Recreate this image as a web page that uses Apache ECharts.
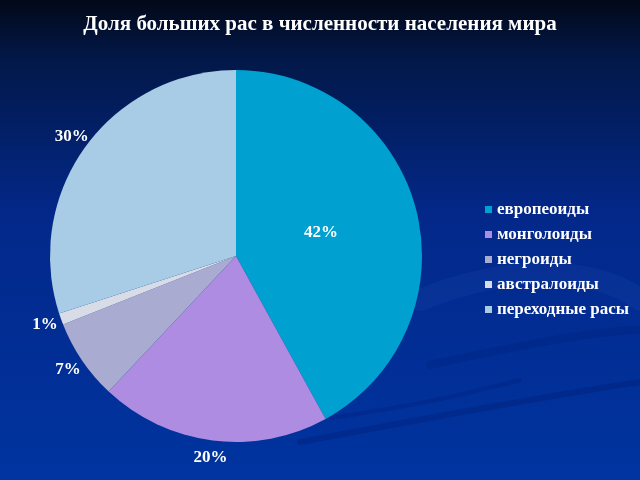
<!DOCTYPE html>
<html>
<head>
<meta charset="utf-8">
<script src="https://cdn.jsdelivr.net/npm/echarts@6/dist/echarts.min.js"></script>
<style>
html,body{margin:0;padding:0;background:#001a66;}
#c{width:640px;height:480px;}
</style>
</head>
<body>
<div id="c"></div>
<script>
const titleText = 'Доля больших рас в численности населения мира';
const categories = ['европеоиды', 'монголоиды', 'негроиды', 'австралоиды', 'переходные расы'];
const values = [42, 20, 7, 1, 30];
const colors = ['#00A0D0', '#AE8CE2', '#A9ACD0', '#D8DCE6', '#A8CCE6'];
const insideIndex = 0;

const font = '"Liberation Serif", "Times New Roman", serif';
const chart = echarts.init(document.getElementById('c'));

const mainData = categories.map((n, i) => ({
  name: n, value: values[i],
  itemStyle: { color: colors[i] },
  label: { show: i === insideIndex }
}));
const ringData = categories.map((n, i) => ({
  name: n, value: values[i],
  label: { show: i !== insideIndex }
}));

function swoosh(x1, y1, cx1, cy1, cx2, cy2, x2, y2, stroke, w) {
  return { type: 'bezierCurve', silent: true, z: -10,
    shape: { x1: x1, y1: y1, cpx1: cx1, cpy1: cy1, cpx2: cx2, cpy2: cy2, x2: x2, y2: y2 },
    style: { fill: 'none', stroke: stroke, lineWidth: w, lineCap: 'round' } };
}

chart.setOption({
  backgroundColor: {
    type: 'linear', x: 0, y: 0, x2: 0, y2: 1,
    colorStops: [
      { offset: 0, color: '#020818' },
      { offset: 0.12, color: '#021848' },
      { offset: 0.45, color: '#03288a' },
      { offset: 1, color: '#0034a0' }
    ]
  },
  graphic: [
    swoosh(300, 442, 420, 420, 520, 400, 640, 382, 'rgba(0,25,110,0.3)', 6),
    swoosh(330, 418, 420, 405, 470, 393, 520, 380, 'rgba(0,25,110,0.25)', 4),
    swoosh(420, 300, 520, 260, 600, 270, 640, 300, 'rgba(60,100,200,0.12)', 22),
    swoosh(430, 365, 520, 345, 600, 330, 640, 330, 'rgba(0,25,110,0.2)', 8)
  ],
  title: {
    text: titleText, left: 'center', top: 9,
    textStyle: { color: '#ffffff', fontFamily: font, fontWeight: 'bold', fontSize: 21 }
  },
  legend: {
    orient: 'vertical', left: 480, top: 196,
    itemWidth: 7, itemHeight: 7, itemGap: 8,
    icon: 'rect',
    data: categories,
    textStyle: { color: '#ffffff', fontFamily: font, fontWeight: 'bold', fontSize: 17 }
  },
  series: [
    {
      type: 'pie', center: [236, 256], radius: [0, 186],
      startAngle: 90, clockwise: true, animation: false,
      emphasis: { disabled: true },
      label: {
        position: 'inner', formatter: '{d}%', color: '#ffffff',
        fontFamily: font, fontWeight: 'bold', fontSize: 17, offset: [-8, 0]
      },
      labelLine: { show: false },
      data: mainData
    },
    {
      type: 'pie', center: [236, 256], radius: [186, 214],
      startAngle: 90, clockwise: true, animation: false, silent: true,
      emphasis: { disabled: true },
      itemStyle: { color: 'rgba(0,0,0,0)' },
      label: {
        position: 'inside', formatter: '{d}%', color: '#ffffff',
        fontFamily: font, fontWeight: 'bold', fontSize: 17
      },
      labelLine: { show: false },
      legendHoverLink: false,
      data: ringData
    }
  ]
});
</script>
</body>
</html>
